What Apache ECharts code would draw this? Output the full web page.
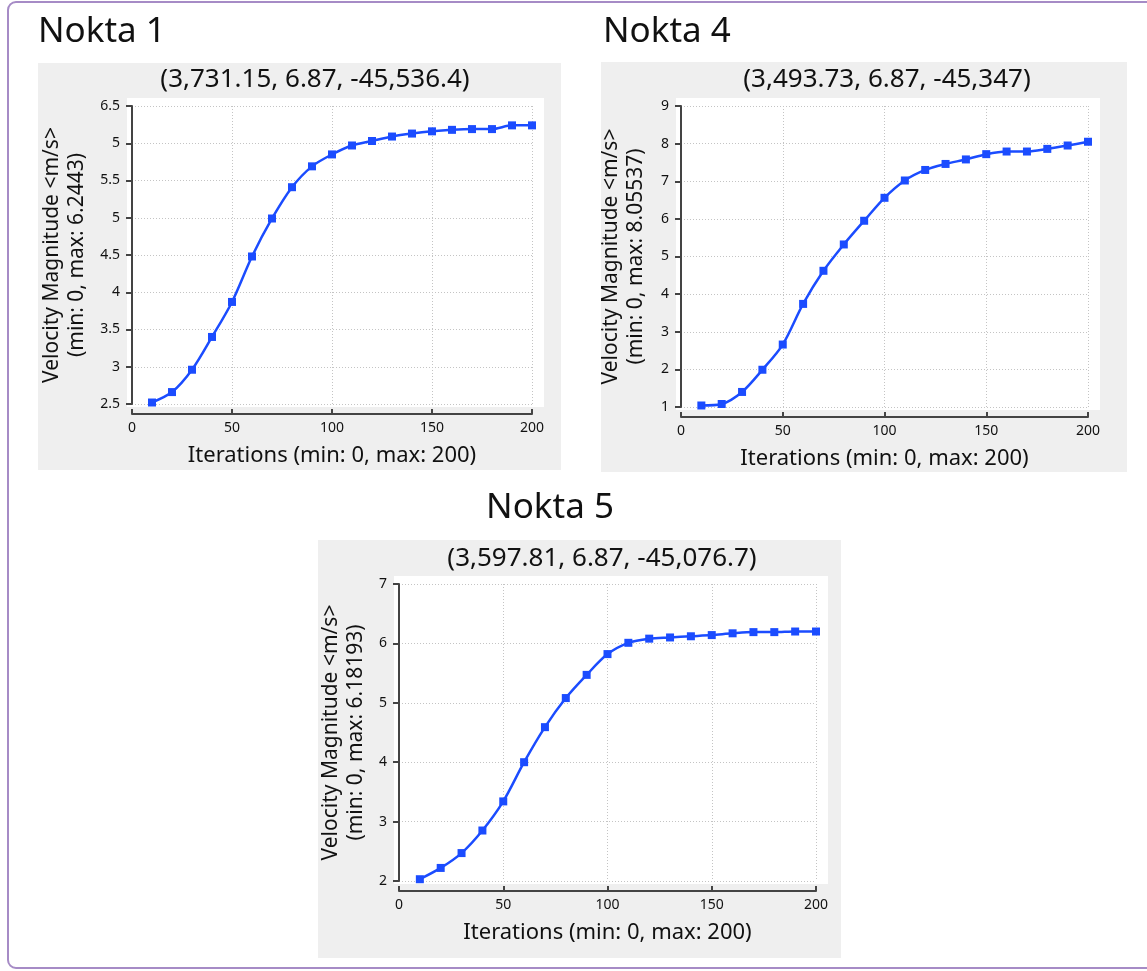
<!DOCTYPE html>
<html>
<head>
<meta charset="utf-8">
<script src="https://cdn.jsdelivr.net/npm/echarts@6/dist/echarts.min.js"></script>
<style>
  html, body { margin: 0; padding: 0; background: #fff; }
  #main { width: 1147px; height: 971px; }
</style>
</head>
<body>
<div id="main"></div>
<script>
  // iterations on the x axis
  var iterations = [10, 20, 30, 40, 50, 60, 70, 80, 90, 100, 110, 120, 130, 140, 150, 160, 170, 180, 190, 200];

  // velocity magnitude
  var nokta1 = [2.52, 2.66, 2.96, 3.40, 3.87, 4.48, 4.99, 5.41, 5.69, 5.85, 5.97, 6.03, 6.09, 6.13, 6.16, 6.18, 6.19, 6.19, 6.24, 6.24];
  var nokta4 = [1.04, 1.08, 1.40, 1.99, 2.66, 3.74, 4.62, 5.32, 5.95, 6.56, 7.02, 7.30, 7.46, 7.58, 7.72, 7.79, 7.79, 7.86, 7.95, 8.05];
  var nokta5 = [2.03, 2.22, 2.47, 2.85, 3.34, 4.00, 4.59, 5.08, 5.47, 5.82, 6.01, 6.08, 6.10, 6.12, 6.14, 6.17, 6.19, 6.19, 6.20, 6.20];

  // tick labels as printed (nokta 1 shows "5" where 6 would be)
  var yTicks1 = ['2.5', '3', '3.5', '4', '4.5', '5', '5.5', '5', '6.5'];
  var xTicks = ['0', '50', '100', '150', '200'];

  var panelTitles = ['Nokta 1', 'Nokta 4', 'Nokta 5'];
  var coordTitles = ['(3,731.15, 6.87, -45,536.4)', '(3,493.73, 6.87, -45,347)', '(3,597.81, 6.87, -45,076.7)'];
  var yNames = [
    'Velocity Magnitude <m/s>\n(min: 0, max: 6.2443)',
    'Velocity Magnitude <m/s>\n(min: 0, max: 8.05537)',
    'Velocity Magnitude <m/s>\n(min: 0, max: 6.18193)'
  ];
  var xName = 'Iterations (min: 0, max: 200)';

  var FONT = '"Noto Sans", "Open Sans", sans-serif';
  var BLUE = '#1b4cff';

  var grids = [
    { left: 132, top: 106, width: 400, height: 298 },
    { left: 681, top: 106, width: 407, height: 301 },
    { left: 399, top: 584, width: 417, height: 297 }
  ];
  var yRanges = [[2.5, 6.5, 0.5], [1, 9, 1], [2, 7, 1]];
  var nameGaps = [34, 24, 22];

  function pairs(vals) {
    return iterations.map(function (x, i) { return [x, vals[i]]; });
  }

  var xAxes = [], yAxes = [], series = [];
  [nokta1, nokta4, nokta5].forEach(function (vals, i) {
    xAxes.push({
      gridIndex: i, type: 'value', min: 0, max: 200, interval: 50,
      offset: 10,
      name: xName, nameLocation: 'middle', nameGap: 31,
      nameTextStyle: { fontFamily: FONT, fontSize: 22, color: '#111' },
      axisLine: { show: true, lineStyle: { color: '#444', width: 2 } },
      axisTick: { show: true, inside: true, length: 5, lineStyle: { color: '#444', width: 2 } },
      axisLabel: {
        fontFamily: FONT, fontSize: 14, color: '#111', margin: 7,
        formatter: function (v, idx) { return xTicks[idx]; }
      },
      splitLine: { show: true, lineStyle: { color: '#c4c4c4', type: [1, 2], width: 1 } }
    });
    var r = yRanges[i];
    yAxes.push({
      gridIndex: i, type: 'value', min: r[0], max: r[1], interval: r[2],
      offset: 8,
      name: yNames[i], nameLocation: 'middle', nameGap: nameGaps[i], nameRotate: 90,
      nameTextStyle: { fontFamily: FONT, fontSize: 21, color: '#111', lineHeight: 25 },
      axisLine: { show: true, lineStyle: { color: '#444', width: 2 } },
      axisTick: { show: true, length: 6, lineStyle: { color: '#444', width: 2 } },
      axisLabel: {
        fontFamily: FONT, fontSize: 14, color: '#111', margin: 4,
        formatter: i === 0 ? function (v, idx) { return yTicks1[idx]; } : null
      },
      splitLine: { show: true, lineStyle: { color: '#c4c4c4', type: [1, 2], width: 1 } }
    });
    series.push({
      type: 'line', xAxisIndex: i, yAxisIndex: i,
      data: pairs(vals), smooth: 0.3,
      symbol: 'rect', symbolSize: 8,
      lineStyle: { color: BLUE, width: 2.5 },
      itemStyle: { color: BLUE },
      z: 5
    });
  });

  var chart = echarts.init(document.getElementById('main'));
  chart.setOption({
    backgroundColor: '#fff',
    animation: false,
    grid: grids,
    xAxis: xAxes,
    yAxis: yAxes,
    series: series,
    graphic: [
      // outer purple frame
      { type: 'rect', z: -20, shape: { x: 8, y: 2, width: 1160, height: 966, r: 8 },
        style: { fill: '#fff', stroke: '#a68bc6', lineWidth: 2 } },
      // grey panels
      { type: 'rect', z: -10, shape: { x: 38, y: 63, width: 523, height: 407 }, style: { fill: '#efefef' } },
      { type: 'rect', z: -10, shape: { x: 601, y: 62, width: 526, height: 410 }, style: { fill: '#efefef' } },
      { type: 'rect', z: -10, shape: { x: 318, y: 540, width: 523, height: 418 }, style: { fill: '#efefef' } },
      // white plot areas
      { type: 'rect', z: -5, shape: { x: 127, y: 98, width: 417, height: 309 }, style: { fill: '#fff' } },
      { type: 'rect', z: -5, shape: { x: 676, y: 98, width: 424, height: 312 }, style: { fill: '#fff' } },
      { type: 'rect', z: -5, shape: { x: 394, y: 576, width: 434, height: 308 }, style: { fill: '#fff' } },
      // panel headings
      { type: 'text', left: 38, top: 15, style: { text: panelTitles[0], font: '35px ' + FONT, fill: '#111' } },
      { type: 'text', left: 603, top: 15, style: { text: panelTitles[1], font: '35px ' + FONT, fill: '#111' } },
      { type: 'text', x: 550, y: 508, style: { text: panelTitles[2], font: '35px ' + FONT, fill: '#111', textAlign: 'center', textVerticalAlign: 'middle' } },
      // coordinates
      { type: 'text', x: 315, y: 80, style: { text: coordTitles[0], font: '26px ' + FONT, fill: '#111', textAlign: 'center', textVerticalAlign: 'middle' } },
      { type: 'text', x: 887, y: 80, style: { text: coordTitles[1], font: '26px ' + FONT, fill: '#111', textAlign: 'center', textVerticalAlign: 'middle' } },
      { type: 'text', x: 602, y: 559, style: { text: coordTitles[2], font: '26px ' + FONT, fill: '#111', textAlign: 'center', textVerticalAlign: 'middle' } }
    ]
  });
</script>
</body>
</html>
